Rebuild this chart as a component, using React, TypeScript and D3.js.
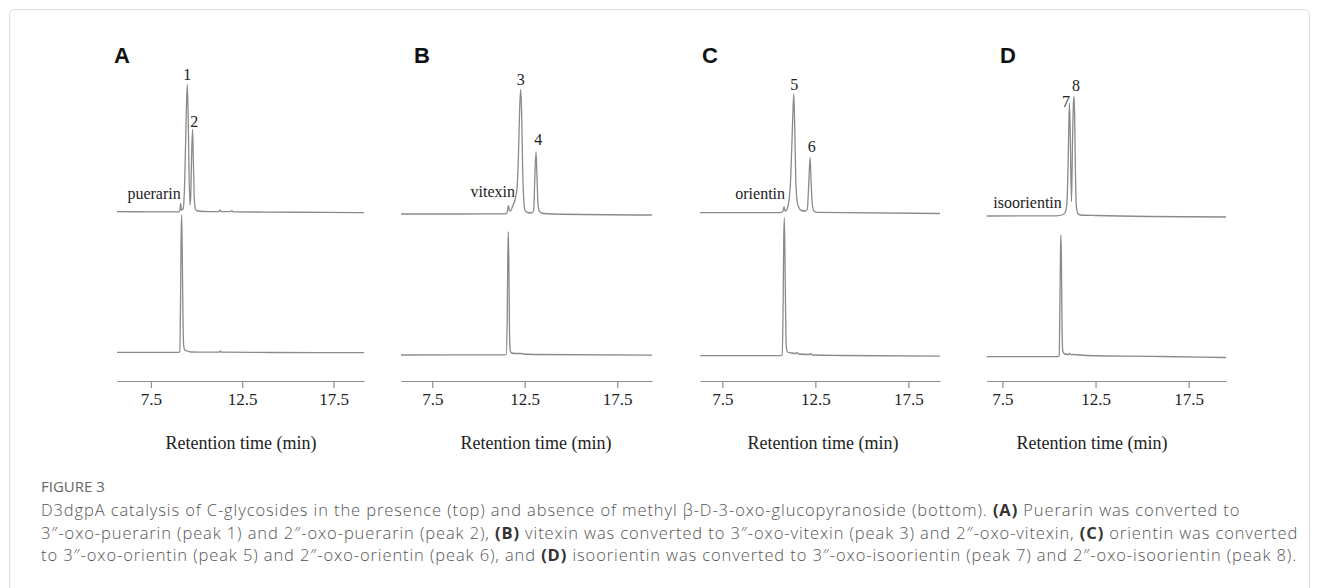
import React, { useEffect, useRef } from 'react';
import * as d3 from 'd3';

type Pt = [number, number];

// retention time (min) vs detector signal (arbitrary units)
const ticks = [7.5, 12.5, 17.5];
const panelLetters = ['A', 'B', 'C', 'D'];
const xDomains: Pt[] = [[5.64, 19.17], [5.81, 19.38], [6.3, 19.2], [6.66, 19.5]];
const compounds = ['puerarin', 'vitexin', 'orientin', 'isoorientin'];
const compoundLabelAt: Pt[] = [[9.13, 181.7], [11.97, 184.3], [10.87, 181.7], [10.69, 173.3]];

const peakNames = [['1', '2'], ['3', '4'], ['5', '6'], ['7', '8']];
const peakLabelAt: Pt[][] = [
  [[9.49, 306], [9.87, 259.3]],
  [[12.28, 301], [13.23, 241]],
  [[11.37, 296], [12.31, 234.3]],
  [[10.91, 279.3], [11.45, 295]],
];

// with substrate (top)
const topA: Pt[] = [
  [5.64, 169.3], [7.5, 169.2], [9.0, 169.1], [9.08, 170], [9.13, 177.5], [9.17, 171], [9.26, 172],
  [9.35, 200], [9.43, 265], [9.49, 296.7], [9.54, 262], [9.59, 205], [9.64, 176], [9.68, 185],
  [9.73, 228], [9.78, 251.7], [9.82, 222], [9.87, 185], [9.93, 172], [10.05, 170], [10.4, 169.5],
  [11.2, 169.4], [11.28, 171], [11.36, 169.4], [11.85, 169.3], [11.92, 170.3], [12.0, 169.2],
  [14, 168.9], [17, 168.6], [19.17, 168.3],
];
const topB: Pt[] = [
  [5.81, 167], [9, 167], [11.4, 167.2], [11.55, 168], [11.61, 175.3], [11.66, 171.5], [11.72, 170],
  [11.85, 175], [11.97, 181], [12.08, 192], [12.16, 225], [12.23, 275], [12.28, 291.7], [12.33, 270],
  [12.39, 210], [12.45, 180], [12.52, 170.5], [12.65, 168.5], [12.85, 168], [12.98, 170], [13.04, 200],
  [13.11, 229.3], [13.16, 205], [13.22, 176], [13.3, 169.5], [13.5, 167.5], [14, 167], [19.38, 166],
];
const topC: Pt[] = [
  [6.3, 168.4], [10.6, 168.4], [10.75, 169.5], [10.82, 174.3], [10.87, 170], [10.95, 171], [11.08, 180],
  [11.18, 205], [11.27, 255], [11.34, 287], [11.39, 255], [11.45, 200], [11.52, 180], [11.6, 174],
  [11.75, 170.5], [11.95, 170], [12.07, 172], [12.14, 195], [12.22, 223.7], [12.27, 200], [12.33, 178],
  [12.42, 170], [12.6, 168.6], [19.2, 167.5],
];
const topD: Pt[] = [
  [6.66, 165], [10.4, 165.2], [10.7, 166], [10.85, 168], [10.95, 175], [11.02, 210], [11.07, 260],
  [11.1, 277.7], [11.14, 250], [11.21, 179.3], [11.27, 245], [11.32, 280], [11.35, 284.3], [11.38, 265],
  [11.42, 210], [11.47, 175], [11.55, 167.5], [11.7, 166], [12.5, 165.5], [19.5, 164],
];

// without substrate (bottom)
const bottomA: Pt[] = [
  [5.64, 28.7], [9.0, 28.7], [9.08, 29.5], [9.12, 80], [9.15, 140], [9.18, 166], [9.21, 135],
  [9.25, 70], [9.29, 36], [9.35, 31], [9.5, 30], [9.7, 29], [10.5, 28.8], [11.25, 28.8], [11.3, 30],
  [11.36, 28.8], [14, 28.5], [19.17, 28.3],
];
const bottomB: Pt[] = [
  [5.81, 26], [11.4, 26.2], [11.5, 26.5], [11.55, 60], [11.58, 120], [11.61, 149.3], [11.64, 120],
  [11.67, 60], [11.71, 31], [11.78, 28], [12.0, 27.5], [12.3, 27.5], [12.38, 27], [13, 26.5], [19.38, 25.8],
];
const bottomC: Pt[] = [
  [6.3, 25.3], [10.6, 25.4], [10.72, 26], [10.77, 80], [10.8, 140], [10.83, 163], [10.86, 135],
  [10.9, 70], [10.94, 34], [11.0, 29], [11.2, 28], [11.45, 27.5], [11.5, 28.5], [11.6, 27], [12.2, 26.5],
  [12.25, 27.5], [12.32, 26], [14, 25.5], [19.2, 24.8],
];
const bottomD: Pt[] = [
  [6.66, 24.3], [10.45, 24.4], [10.55, 25], [10.59, 80], [10.62, 130], [10.64, 146], [10.67, 120],
  [10.7, 60], [10.74, 30], [10.85, 27], [11.05, 26.5], [11.12, 27.5], [11.2, 26], [11.3, 26.5], [12, 25.5],
  [16, 24.5], [19.5, 23.5],
];

const topTraces = [topA, topB, topC, topD];
const bottomTraces = [bottomA, bottomB, bottomC, bottomD];

// layout
const W = 1319;
const H = 588;
const panelRanges: Pt[] = [[117, 364], [401, 652], [700, 940], [986.7, 1226]];
const letterX = [114, 414, 702, 1000];
const xLabelX = [241, 536, 823, 1092];
const captionLeft = 41;
const captionRight = 1297;
const captionSize = 16.5;
const captionLead = 22.5;

const TRACE = '#8a8a8a';
const AXIS = '#8f8f8f';
const SERIF = '"Liberation Serif", "Times New Roman", serif';
const SANS = '"Liberation Sans", Arial, sans-serif';
const CAP = '"Open Sans", "Noto Sans", sans-serif';

const captionLines: [string, boolean][][] = [
  [['D3dgpA catalysis of C-glycosides in the presence (top) and absence of methyl β-D-3-oxo-glucopyranoside (bottom). ', false], ['(A)', true], [' Puerarin was converted to', false]],
  [['3″-oxo-puerarin (peak 1) and 2″-oxo-puerarin (peak 2), ', false], ['(B)', true], [' vitexin was converted to 3″-oxo-vitexin (peak 3) and 2″-oxo-vitexin, ', false], ['(C)', true], [' orientin was converted', false]],
  [['to 3″-oxo-orientin (peak 5) and 2″-oxo-orientin (peak 6), and ', false], ['(D)', true], [' isoorientin was converted to 3″-oxo-isoorientin (peak 7) and 2″-oxo-isoorientin (peak 8).', false]],
];

const App = () => {
  const svgRef = useRef<SVGSVGElement>(null);

  useEffect(() => {
    const svg = d3.select(svgRef.current);
    svg.selectAll('*').remove();

    svg.append('rect').attr('width', W).attr('height', H).attr('fill', '#fff');
    svg.append('rect')
      .attr('x', 9.5).attr('y', 9.5).attr('width', 1300).attr('height', 620)
      .attr('rx', 5).attr('fill', 'none').attr('stroke', '#dcdcdc');

    const y = d3.scaleLinear().domain([0, 300]).range([381, 81]);

    panelLetters.forEach((letter, i) => {
      const x = d3.scaleLinear().domain(xDomains[i]).range(panelRanges[i]);
      const g = svg.append('g');

      const line = d3.line<Pt>().x((d) => x(d[0])).y((d) => y(d[1])).curve(d3.curveMonotoneX);

      [topTraces[i], bottomTraces[i]].forEach((trace) => {
        g.append('path').datum(trace).attr('d', line).attr('fill', 'none')
          .attr('stroke', TRACE).attr('stroke-width', 1.3).attr('stroke-linejoin', 'round');
      });

      const axis = g.append('g')
        .attr('transform', `translate(0,${y(0)})`)
        .call(d3.axisBottom(x).tickValues(ticks).tickSize(7).tickSizeOuter(0).tickPadding(5).tickFormat(d3.format('.1f')));
      axis.select('.domain').attr('stroke', AXIS).attr('stroke-width', 1.2);
      axis.selectAll('.tick line').attr('stroke', AXIS).attr('stroke-width', 1.2);
      axis.selectAll('.tick text').attr('font-family', SERIF).attr('font-size', 17).attr('fill', '#222');

      g.append('text')
        .attr('x', letterX[i]).attr('y', 63)
        .attr('font-family', SANS).attr('font-weight', 'bold').attr('font-size', 22).attr('fill', '#111')
        .text(letter);

      g.append('text')
        .attr('x', xLabelX[i]).attr('y', 449)
        .attr('text-anchor', 'middle')
        .attr('font-family', SERIF).attr('font-size', 18).attr('fill', '#222')
        .text('Retention time (min)');

      g.append('text')
        .attr('x', x(compoundLabelAt[i][0])).attr('y', y(compoundLabelAt[i][1]))
        .attr('text-anchor', 'end')
        .attr('font-family', SERIF).attr('font-size', 16).attr('fill', '#222')
        .text(compounds[i]);

      peakNames[i].forEach((name, j) => {
        g.append('text')
          .attr('x', x(peakLabelAt[i][j][0])).attr('y', y(peakLabelAt[i][j][1]))
          .attr('dy', '0.33em')
          .attr('text-anchor', 'middle')
          .attr('font-family', SERIF).attr('font-size', 16).attr('fill', '#222')
          .text(name);
      });
    });

    svg.append('text')
      .attr('x', captionLeft).attr('y', 492)
      .attr('font-family', CAP).attr('font-size', 15).attr('fill', '#666')
      .text('FIGURE 3');

    const texts = captionLines.map((parts, k) => {
      const t = svg.append('text')
        .attr('x', captionLeft).attr('y', 516 + k * captionLead)
        .attr('font-family', CAP).attr('font-size', captionSize).attr('font-weight', 300).attr('fill', '#555');
      parts.forEach(([s, bold]) => {
        t.append('tspan')
          .attr('font-weight', bold ? 'bold' : 300)
          .attr('fill', bold ? '#333' : '#555')
          .text(s);
      });
      return t;
    });
    // spread the caption a little so the longest line spans the frame width
    const lastParts = captionLines[captionLines.length - 1];
    const nChars = lastParts.reduce((n, [s]) => n + s.length, 0);
    const last = texts[texts.length - 1].node() as SVGTextElement | null;
    const len = last ? last.getComputedTextLength() : 0;
    if (len > 0) {
      const ls = Math.min(2, Math.max(0, (captionRight - captionLeft - len) / nChars));
      texts.forEach((t) => t.attr('letter-spacing', ls));
    }
  }, []);

  return (
    <svg
      ref={svgRef}
      width={W}
      height={H}
      style={{ position: 'absolute', left: 0, top: 0, display: 'block' }}
    />
  );
};

export default App;
